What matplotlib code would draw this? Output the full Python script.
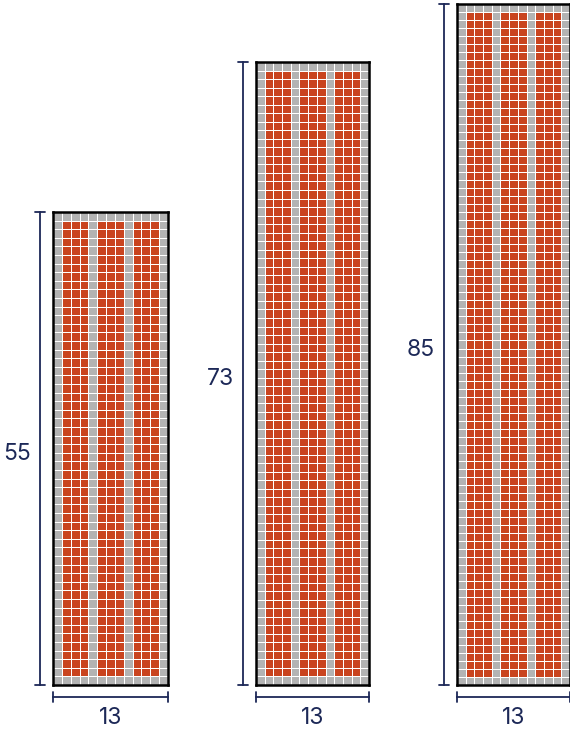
import numpy as np
import matplotlib
matplotlib.use("Agg")
import matplotlib.pyplot as plt
from matplotlib.colors import ListedColormap
from matplotlib.transforms import ScaledTranslation

# grid sizes (cells)
widths = [13, 13, 13]
heights = [55, 73, 85]
# columns that hold orange cells (inner 3-cell strips)
orange_cols = [1, 2, 3, 5, 6, 7, 9, 10, 11]

GRAY = "#b3b3b3"
ORANGE = "#c9441f"
NAVY = "#1c2857"

plt.rcParams['font.family'] = ['Inter', 'DejaVu Sans']

fig = plt.figure(figsize=(5.70, 7.32), dpi=100)
W, H = 570.0, 732.0

# axes boxes in pixels: left, top, right, bottom
boxes = [(53, 212, 168, 685), (256, 62, 369, 685), (457, 4, 570, 685)]


def px(dx, dy):
    # offset in pixels -> transform
    return ScaledTranslation(dx / 100.0, dy / 100.0, fig.dpi_scale_trans)


def seg(ax, p0, p1, t0, t1):
    ax.annotate("", xy=p0, xytext=p1, xycoords=t0, textcoords=t1,
                arrowprops=dict(arrowstyle="-", color=NAVY, lw=1.3,
                                shrinkA=0, shrinkB=0))


for w, h, (l, t, r, b) in zip(widths, heights, boxes):
    ax = fig.add_axes([l / W, (H - b) / H, (r - l) / W, (b - t) / H])
    mask = np.zeros((h, w))
    for c in orange_cols:
        mask[1:h - 1, c] = 1
    ax.pcolormesh(np.arange(w + 1), np.arange(h + 1), mask,
                  cmap=ListedColormap([GRAY, ORANGE]), vmin=0, vmax=1,
                  edgecolors="white", linewidth=0.45)
    ax.set_xlim(0, w)
    ax.set_ylim(0, h)
    ax.set_xticks([])
    ax.set_yticks([])
    for s in ax.spines.values():
        s.set_linewidth(1.8)
        s.set_color("black")
        s.set_zorder(5)

    # vertical dimension line
    tv = ax.transData + px(-13, 0)
    ax.plot([0, 0], [0, h], color=NAVY, lw=1.3, transform=tv, clip_on=False)
    for yy in (0, h):
        seg(ax, (0, yy), (0, yy), ax.transData + px(-18, 0), ax.transData + px(-8, 0))
    ax.text(0, h / 2, str(h), transform=ax.transData + px(-36, -5),
            ha="center", va="center", fontsize=16.5, color=NAVY, clip_on=False)

    # horizontal dimension line
    th = ax.transData + px(0, -12)
    ax.plot([0, w], [0, 0], color=NAVY, lw=1.3, transform=th, clip_on=False)
    for xx in (0, w):
        seg(ax, (xx, 0), (xx, 0), ax.transData + px(0, -17), ax.transData + px(0, -7))
    ax.text(w / 2, 0, str(w), transform=ax.transData + px(0, -33),
            ha="center", va="center", fontsize=16.5, color=NAVY, clip_on=False)

fig.savefig("out.png", dpi=100)
